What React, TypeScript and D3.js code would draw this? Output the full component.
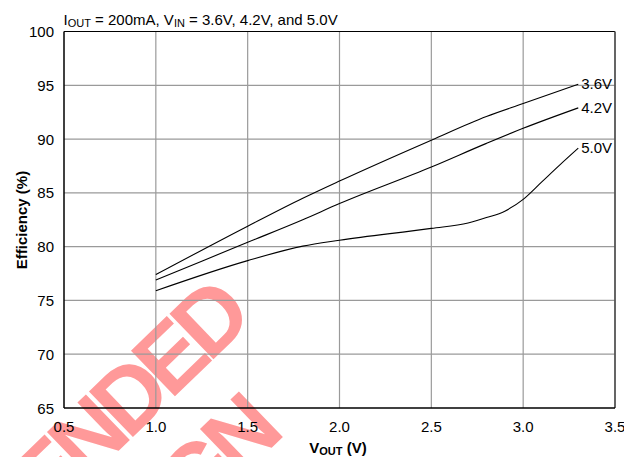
import React, { useEffect } from 'react';
import * as d3 from 'd3';

// Efficiency vs VOUT, IOUT = 200mA
const vout36 = [1.0, 1.5, 1.8, 2.0, 2.5, 2.8, 3.0, 3.3];
const eff36 = [77.4, 81.9, 84.5, 86.1, 89.9, 92.1, 93.3, 95.1];

const vout42 = [1.0, 1.5, 1.8, 2.0, 2.5, 2.8, 3.0, 3.3];
const eff42 = [76.9, 80.4, 82.5, 84.0, 87.4, 89.6, 91.0, 92.9];

const vout50 = [1.0, 1.5, 1.8, 2.0, 2.5, 2.7, 2.8, 2.9, 3.0, 3.1, 3.2, 3.3];
const eff50 = [75.9, 78.7, 80.05, 80.6, 81.7, 82.2, 82.7, 83.3, 84.4, 86.0, 87.6, 89.15];

const seriesLabels = ['3.6V', '4.2V', '5.0V'];
const xTicks = [0.5, 1.0, 1.5, 2.0, 2.5, 3.0, 3.5];
const yTicks = [65, 70, 75, 80, 85, 90, 95, 100];

const W = 624;
const H = 457;
const margin = { top: 31.5, right: 9, bottom: 49, left: 64 };
const font = "'Liberation Sans', Arial, sans-serif";

const App: React.FC = () => {
  useEffect(() => {
    document.body.style.margin = '0';
  }, []);

  const x = d3.scaleLinear().domain([0.5, 3.5]).range([margin.left, W - margin.right]);
  const y = d3.scaleLinear().domain([65, 100]).range([H - margin.bottom, margin.top]);

  const series = [
    { label: seriesLabels[0], xs: vout36, ys: eff36 },
    { label: seriesLabels[1], xs: vout42, ys: eff42 },
    { label: seriesLabels[2], xs: vout50, ys: eff50 },
  ];

  const line = d3.line<[number, number]>()
    .x(d => x(d[0]))
    .y(d => y(d[1]))
    .curve(d3.curveMonotoneX);

  const [x0, x1] = x.range();
  const [y0, y1] = y.range();

  return (
    <svg width={W} height={H} style={{ display: 'block', fontFamily: font }}>
      <rect width={W} height={H} fill="#fff" />

      {/* watermark */}
      <g transform="translate(245.3,328.5) rotate(-44)" fill="#ff9999" fontWeight="bold" fontSize={92} letterSpacing={-8} textAnchor="end">
        <text x={8} y={0}>NOT RECOMMENDED</text>
        <text x={-50} y={104}>FOR NEW DESIGN</text>
      </g>

      {/* grid */}
      {xTicks.slice(1, -1).map(t => (
        <line key={'gx' + t} x1={x(t)} x2={x(t)} y1={y1} y2={y0} stroke="#9a9a9a" strokeWidth={1.2} />
      ))}
      {yTicks.slice(1, -1).map(t => (
        <line key={'gy' + t} x1={x0} x2={x1} y1={y(t)} y2={y(t)} stroke="#9a9a9a" strokeWidth={1.2} />
      ))}

      {/* frame */}
      <line x1={x0} x2={x1} y1={y1} y2={y1} stroke="#000" strokeWidth={1} />
      <line x1={x1} x2={x1} y1={y1} y2={y0} stroke="#555" strokeWidth={1.8} />
      <line x1={x0} x2={x0} y1={y1} y2={y0} stroke="#000" strokeWidth={1.5} />
      <line x1={x0} x2={x1} y1={y0} y2={y0} stroke="#000" strokeWidth={1.5} />

      {/* curves */}
      {series.map(s => {
        const pts = s.xs.map((v, i) => [v, s.ys[i]] as [number, number]);
        const last = pts[pts.length - 1];
        return (
          <g key={s.label}>
            <path d={line(pts) || ''} fill="none" stroke="#000" strokeWidth={1.1} />
            <text x={x(last[0]) + 3} y={y(last[1]) + 5} fontSize={15} fill="#000">{s.label}</text>
          </g>
        );
      })}

      {/* tick labels */}
      {xTicks.map(t => (
        <text key={'tx' + t} x={x(t)} y={432} fontSize={15} textAnchor="middle" fill="#000">
          {t.toFixed(1)}
        </text>
      ))}
      {yTicks.map(t => (
        <text key={'ty' + t} x={54} y={y(t) + 5.5} fontSize={15} textAnchor="end" fill="#000">
          {t}
        </text>
      ))}

      {/* title */}
      <text x={63.5} y={25} fontSize={15} fill="#000">
        I<tspan fontSize={11} dy={2}>OUT</tspan>
        <tspan dy={-2}> = 200mA, V</tspan>
        <tspan fontSize={11} dy={2}>IN</tspan>
        <tspan dy={-2}> = 3.6V, 4.2V, and 5.0V</tspan>
      </text>

      {/* axis titles */}
      <text x={338} y={453} fontSize={15} fontWeight="bold" textAnchor="middle" fill="#000">
        V<tspan fontSize={11} dy={2}>OUT</tspan>
        <tspan dy={-2}> (V)</tspan>
      </text>
      <text transform="translate(26.5,220) rotate(-90)" fontSize={15} fontWeight="bold" textAnchor="middle" fill="#000">
        Efficiency (%)
      </text>
    </svg>
  );
};

export default App;
